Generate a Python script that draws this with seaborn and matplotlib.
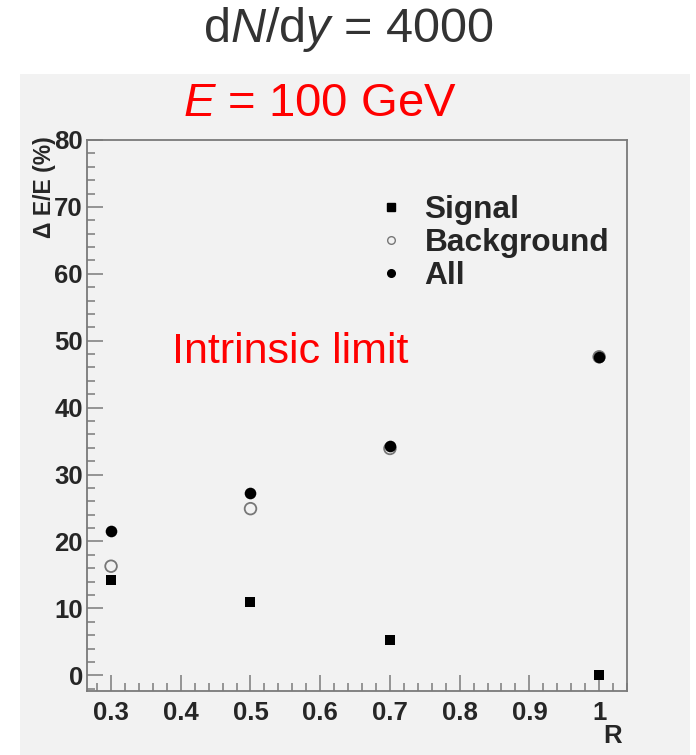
import seaborn as sns
import matplotlib.pyplot as plt
import pandas as pd
from matplotlib.patches import Rectangle
from matplotlib.lines import Line2D
from matplotlib.ticker import MultipleLocator

# Data
R = [0.3, 0.5, 0.7, 1.0]
signal = [14.2, 10.9, 5.2, 0.0]
background = [16.3, 24.9, 33.9, 47.6]
all_jets = [21.6, 27.2, 34.2, 47.6]

df = pd.DataFrame({"R": R, "Signal": signal, "Background": background, "All": all_jets})

sns.set_style("ticks")
plt.rcParams["font.family"] = ["Liberation Sans", "DejaVu Sans"]
plt.rcParams["mathtext.fontset"] = "custom"
plt.rcParams["mathtext.rm"] = "Liberation Sans"
plt.rcParams["mathtext.it"] = "Liberation Sans:italic"

panel = "#f2f2f2"
frame = "#7a7a7a"

fig = plt.figure(figsize=(6.96, 7.55), dpi=100, facecolor="white")
fig.add_artist(Rectangle((20 / 696, 0), 670 / 696, 1 - 74 / 755, transform=fig.transFigure,
                         facecolor=panel, edgecolor="none", zorder=0))

ax = fig.add_axes([87 / 696, 1 - 691 / 755, 540 / 696, 551 / 755])
ax.set_facecolor(panel)

# Series
sns.scatterplot(data=df, x="R", y="Background", ax=ax, marker="o", s=70,
                facecolor="none", edgecolor="#777777", linewidth=1.3, zorder=3)
sns.scatterplot(data=df, x="R", y="All", ax=ax, marker="o", s=70,
                color="black", linewidth=0, zorder=4)
sns.scatterplot(data=df, x="R", y="Signal", ax=ax, marker="s", s=62,
                color="black", linewidth=0, zorder=5)

ax.set_xlim(0.2655, 1.04)
ax.set_ylim(-2.35, 80)

ax.xaxis.set_major_locator(MultipleLocator(0.1))
ax.xaxis.set_minor_locator(MultipleLocator(0.02))
ax.yaxis.set_major_locator(MultipleLocator(10))
ax.yaxis.set_minor_locator(MultipleLocator(2))
ax.set_xticks([0.3, 0.4, 0.5, 0.6, 0.7, 0.8, 0.9, 1.0])
ax.set_xticklabels(["0.3", "0.4", "0.5", "0.6", "0.7", "0.8", "0.9", "1"])

ax.tick_params(which="both", direction="in", color=frame, width=1.1,
               top=False, right=False)
ax.tick_params(which="major", length=11.5)
ax.tick_params(which="minor", length=5.8)
ax.tick_params(axis="x", which="major", pad=7)
ax.tick_params(axis="y", which="major", pad=3)
for lab in ax.get_xticklabels() + ax.get_yticklabels():
    lab.set_fontsize(18.5)
    lab.set_fontweight("bold")

for sp in ax.spines.values():
    sp.set_color(frame)
    sp.set_linewidth(1.3)
    sp.set_visible(True)

ax.set_xlabel("R", loc="right", fontsize=18.5, fontweight="bold")
ax.xaxis.set_label_coords(0.99, -0.06)
ax.set_ylabel("\u0394 E/E (%)", loc="top", fontsize=16.5, fontweight="bold")
ax.yaxis.set_label_coords(-0.057, 1.006)

# Legend
handles = [
    Line2D([], [], ls="none", marker="s", ms=5.5, mfc="black", mec="black"),
    Line2D([], [], ls="none", marker="o", ms=5.5, mfc="none", mec="#777777", mew=1.0),
    Line2D([], [], ls="none", marker="o", ms=5.5, mfc="black", mec="black"),
]
ax.legend(handles, ["Signal", "Background", "All"], loc="upper left",
          bbox_to_anchor=(377 / 696, 1 - 195 / 755), bbox_transform=fig.transFigure,
          frameon=False, borderpad=0, borderaxespad=0, handlelength=0.9,
          handletextpad=0.6, labelspacing=0.1,
          prop={"size": 22.8, "weight": "bold"})

# Annotations
fig.text(0.5, 1 - 29 / 755, "d$N$/d$y$ = 4000", ha="center", va="center",
         fontsize=35, color="#333333")
fig.text(320 / 696, 1 - 104 / 755, "$E$ = 100 GeV", ha="center", va="center",
         fontsize=34, color="red")
fig.text(172 / 696, 1 - 352 / 755, "Intrinsic limit", ha="left", va="center",
         fontsize=31, color="red")

fig.savefig("out.png", dpi=100, facecolor="white")
